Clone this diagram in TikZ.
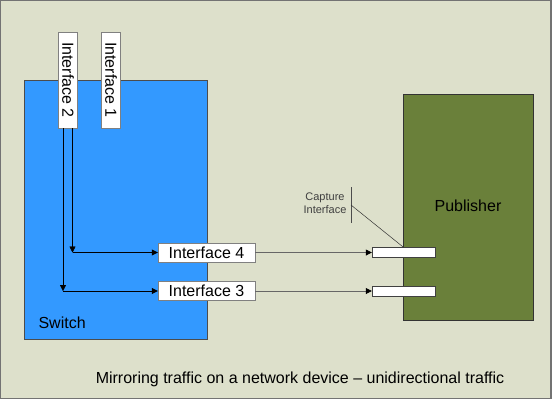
\documentclass[tikz,border=0pt]{standalone}
\usepackage{fontspec}
\setmainfont{Liberation Sans}
\usetikzlibrary{calc,arrows.meta}

\definecolor{paper}{HTML}{DDE0CB}
\definecolor{switchblue}{HTML}{3399FF}
\definecolor{pubgreen}{HTML}{6A803A}

\begin{document}
\begin{tikzpicture}[x=1pt,y=-1pt,
  lbl/.style={font=\fontsize{16}{19}\selectfont},
  port/.style={lbl,draw=black!50,fill=white,inner sep=0pt,
    minimum width=97pt,minimum height=19pt},
  upport/.style={port,minimum width=96pt,rotate=-90},
  capport/.style={draw=black!75,fill=white,inner sep=0pt,
    minimum width=63pt,minimum height=10pt},
  flow/.style={black,-{Triangle[length=6pt,width=6pt]}},
  feed/.style={black!60,line width=0.8pt,-{Triangle[length=6pt,width=6pt,black]}}]

\useasboundingbox (0,0) rectangle (553,400);

% frame and the two devices
\draw[fill=paper,draw=black!55,line width=1.2pt] (0.6,0.6) rectangle (551,398.5);
\draw[fill=switchblue,draw=black!70] (24.5,80.5) rectangle (207,339);
\draw[fill=pubgreen,draw=black!80] (403,94) rectangle (533,320);

\node[lbl,anchor=base west] (sw) at (35,328.5) {Switch};
\node[lbl] (pub) at (468,206) {Publisher};

% switch ports
\node[upport] (if2) at (68,80) {Interface 2};
\node[upport] (if1) at (111,80) {Interface 1};
\node[port] (if4) at (206.5,252.5) {Interface 4};
\node[port] (if3) at (206.5,291) {Interface 3};

% publisher capture ports
\node[capport] (cap4) at (403.5,252.5) {};
\node[capport] (cap3) at (403.5,291) {};

% if2.east is the lower end of the turned box
\coordinate (a4) at ($(if2.east)+(4.5,0)$);
\coordinate (a3) at ($(if2.east)+(-5,0)$);
\coordinate (b4) at (a4 |- if4.west);
\coordinate (b3) at (a3 |- if3.west);

\draw[flow] (a4) -- (b4);
\draw[flow] (b4) -- (if4.west);
\draw[flow] (a3) -- (b3);
\draw[flow] (b3) -- (if3.west);

\draw[feed] (if4.east) -- (cap4.west);
\draw[feed] (if3.east) -- (cap3.west);

% callout
\node[font=\fontsize{11}{13}\selectfont,text=black!75,align=center] (capt) at (325,203.5)
  {Capture\\Interface};
\coordinate (t1) at (351,187);
\coordinate (t2) at (351,223);
\coordinate (t0) at (351,205);
\draw[black!70,line width=0.8pt] (t1) -- (t2);
\draw[black!80,line width=0.5pt] (t0) -- (cap4.north);

\node[lbl,anchor=base] (cap) at (300,383)
  {Mirroring traffic on a network device -- unidirectional traffic};

\end{tikzpicture}
\end{document}
